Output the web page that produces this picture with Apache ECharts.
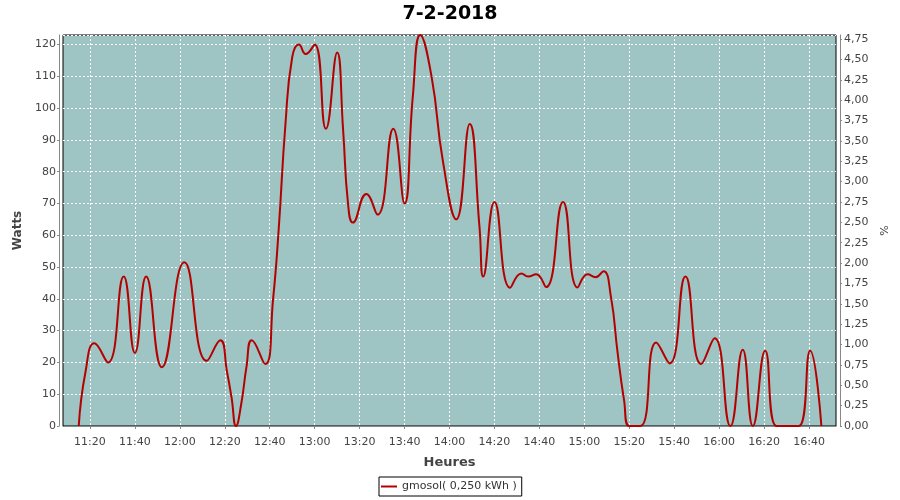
<!DOCTYPE html>
<html>
<head>
<meta charset="utf-8">
<script src="https://cdn.jsdelivr.net/npm/echarts@6/dist/echarts.min.js"></script>
<style>html,body{margin:0;padding:0;background:#fff}#c{width:900px;height:500px}</style>
</head>
<body>
<div id="c"></div>
<script>
// ---- data ----
const chartTitle = "7-2-2018";
const seriesName = "gmosol( 0,250 kWh )";
const times = ["11:15","11:18","11:22","11:28","11:35","11:40","11:45","11:52","12:02","12:12","12:18","12:21","12:23","12:25","12:27:20","12:29:40","12:32","12:38",
  "12:41:30","12:44","12:47","12:50","12:53","12:56","13:00","13:05","13:10","13:12:40","13:14:50","13:17","13:23","13:28","13:35","13:40",
  "13:43:40","13:47","13:52","13:57","14:03","14:09","14:13:20","14:15","14:20","14:27","14:32","14:35","14:38:30","14:43","14:50:30","14:57","15:01:30","15:05","15:08:30",
  "15:11:50","15:14:50","15:17:40","15:20","15:25","15:32","15:38","15:45","15:52","15:58","16:05","16:10:30","16:15","16:20:30","16:25:30","16:30:30",
  "16:35:30","16:40:30","16:45:30"];
const watts = [0,17,26,20,47,23,47,18.5,51.5,20.5,27,17,9,0,7,18.7,27,19.5,
  40,62,95,116,120,117,120,93.5,117.5,93,70,64,73,66.5,93.5,70,
  103.6,123,110,83.6,65,95,62.7,47,70.5,43.5,48,47,47.7,43.7,70.5,43.6,47.7,46.8,48.7,
  40.7,22.9,8.2,0,0,26.3,19.7,47,19.5,27.6,0,24,0,23.7,0,0,
  0,23.7,0];
const xTickLabels = ["11:20","11:40","12:00","12:20","12:40","13:00","13:20","13:40","14:00","14:20","14:40","15:00","15:20","15:40","16:00","16:20","16:40"];
const xStart = "11:08", xEnd = "16:52";
const wattsMax = 123, pctMax = 4.8;

function toMin(s){const p=s.split(':').map(Number);return p[0]*60+p[1]+(p[2]||0)/60;}
const points = times.map((t,i)=>[toMin(t), watts[i]]);
const tickVals = xTickLabels.map(toMin);
const labelMap = {}; xTickLabels.forEach(l=>labelMap[toMin(l)]=l);

const FONT = "DejaVu Sans";
const chart = echarts.init(document.getElementById('c'), null, {renderer:'canvas'});
chart.setOption({
  animation:false,
  backgroundColor:'#ffffff',
  title:{text:chartTitle,left:'center',top:0,textStyle:{fontFamily:FONT,fontSize:19,fontWeight:'bold',color:'#000'}},
  legend:{data:[seriesName],left:379,top:477,padding:[4,5,4,2],itemGap:0,itemWidth:16,itemHeight:2,icon:'rect',
    borderColor:'#000',borderWidth:1,textStyle:{fontFamily:FONT,fontSize:11,color:'#333'}},
  grid:{left:63,right:64,top:35,bottom:74,show:true,backgroundColor:'#9ec4c3',borderColor:'#000',borderWidth:1},
  xAxis:{type:'value',min:toMin(xStart),max:toMin(xEnd),offset:4,
    name:'Heures',nameLocation:'middle',nameGap:26,
    nameTextStyle:{fontFamily:FONT,fontSize:13,fontWeight:'bold',color:'#444'},
    axisLine:{show:true,lineStyle:{color:'#888'}},
    axisTick:{show:true,length:3,customValues:tickVals,lineStyle:{color:'#888'}},
    axisLabel:{customValues:tickVals,margin:7,fontFamily:FONT,fontSize:11,color:'#444',formatter:v=>labelMap[Math.round(v)]||''},
    splitLine:{show:true,lineStyle:{color:'#fff',type:[2,2],width:1}}},
  yAxis:[{type:'value',min:0,max:wattsMax,interval:10,offset:4,position:'left',
    name:'Watts',nameLocation:'middle',nameGap:29,
    nameTextStyle:{fontFamily:FONT,fontSize:12,fontWeight:'bold',color:'#444'},
    axisLine:{show:true,lineStyle:{color:'#888'}},
    axisTick:{show:true,length:2,lineStyle:{color:'#888'}},
    axisLabel:{showMaxLabel:false,margin:3,fontFamily:FONT,fontSize:11,color:'#444'},
    splitLine:{show:true,lineStyle:{color:'#fff',type:[2,2],width:1}}},
   {type:'value',min:0,max:pctMax,interval:0.25,offset:4,position:'right',
    name:'%',nameLocation:'middle',nameGap:36,
    nameTextStyle:{fontFamily:FONT,fontSize:11,color:'#444'},
    axisLine:{show:true,lineStyle:{color:'#888'}},
    axisTick:{show:true,length:2,lineStyle:{color:'#888'}},
    axisLabel:{showMaxLabel:false,margin:4,fontFamily:FONT,fontSize:11,color:'#444',formatter:v=>v.toFixed(2).replace('.',',')},
    splitLine:{show:false}}],
  series:[{name:seriesName,type:'line',data:points,yAxisIndex:0,smooth:0.5,showSymbol:false,clip:true,
    lineStyle:{color:'#b40000',width:2},itemStyle:{color:'#b40000'}}]
});
</script>
</body>
</html>
